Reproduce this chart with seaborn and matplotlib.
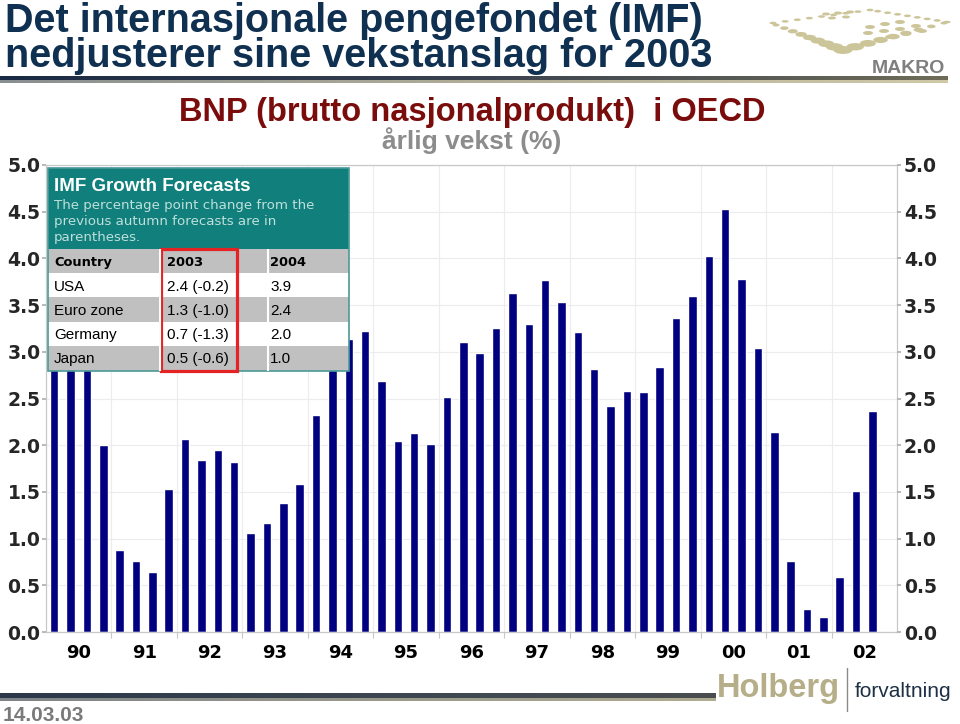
import numpy as np
import pandas as pd
import matplotlib
matplotlib.use("Agg")
import matplotlib.pyplot as plt
from matplotlib.patches import Rectangle, Ellipse
from matplotlib.colors import LinearSegmentedColormap
import seaborn as sns

# ---------------- data ----------------
year_labels = ["90", "91", "92", "93", "94", "95", "96", "97", "98", "99", "00", "01", "02"]
quarter_names = ["Q1", "Q2", "Q3", "Q4"]
growth = [
    3.30, 3.10, 3.00, 2.00,   # 1990
    0.88, 0.76, 0.64, 1.53,   # 1991
    2.07, 1.84, 1.95, 1.82,   # 1992
    1.06, 1.17, 1.38, 1.58,   # 1993
    2.32, 2.90, 3.14, 3.22,   # 1994
    2.69, 2.05, 2.13, 2.01,   # 1995
    2.52, 3.10, 2.99, 3.26,   # 1996
    3.63, 3.30, 3.77, 3.53,   # 1997
    3.21, 2.82, 2.42, 2.58,   # 1998
    2.57, 2.84, 3.36, 3.60,   # 1999
    4.03, 4.53, 3.78, 3.04,   # 2000
    2.14, 0.76, 0.25, 0.16,   # 2001
    0.59, 1.51, 2.37,         # 2002
]
y_ticks = [0.0, 0.5, 1.0, 1.5, 2.0, 2.5, 3.0, 3.5, 4.0, 4.5, 5.0]

title_lines = ["Det internasjonale pengefondet (IMF)", "nedjusterer sine vekstanslag for 2003"]
chart_title = "BNP (brutto nasjonalprodukt)  i OECD"
chart_subtitle = "årlig vekst (%)"
date_text = "14.03.03"

table_title = "IMF Growth Forecasts"
table_note = ["The percentage point change from the",
              "previous autumn forecasts are in",
              "parentheses."]
table_header = ["Country", "2003", "2004"]
table_countries = ["USA", "Euro zone", "Germany", "Japan"]
table_2003 = ["2.4 (-0.2)", "1.3 (-1.0)", "0.7 (-1.3)", "0.5 (-0.6)"]
table_2004 = ["3.9", "2.4", "2.0", "1.0"]

# ---------------- setup ----------------
sns.set_theme(style="white")
plt.rcParams["font.family"] = ["DejaVu Sans"]
SANS = ["Liberation Sans", "DejaVu Sans"]

slots = [f"{y}{q}" for y in year_labels for q in quarter_names]
df = pd.DataFrame({"quarter": slots[:len(growth)], "growth": growth})

fig = plt.figure(figsize=(9.6, 7.24), dpi=100)
W, H = 960, 724
ax = fig.add_axes([46 / W, 1 - 632 / H, 851 / W, 467 / H])

sns.barplot(data=df, x="quarter", y="growth", order=slots, color="#000080",
            saturation=1, width=0.52, ax=ax)
ax.set_xlabel("")
ax.set_ylabel("")
ax.set_ylim(0, 5)
ax.set_xlim(-0.5, len(slots) - 0.5)
ax.set_axisbelow(True)

n_years = len(year_labels)
centers = [4 * i + 1.5 for i in range(n_years)]
bounds = [4 * i + 3.5 for i in range(n_years - 1)]
ax.set_xticks(centers)
ax.set_xticklabels(year_labels, fontsize=13, fontweight="bold", color="black")
ax.set_xticks(bounds, minor=True)
ax.tick_params(axis="x", which="major", length=0, pad=9)
ax.tick_params(axis="x", which="minor", length=4, color="#c8c8c8", width=0.8, bottom=True)
ax.grid(axis="x", which="minor", color="#ececf0", lw=0.8)
ax.set_yticks(y_ticks)
ax.set_yticklabels([f"{v:.1f}" for v in y_ticks], fontsize=13.5, fontweight="bold")
ax.tick_params(axis="y", length=3, pad=1, color="#b0b0b0", left=True)
ax.grid(axis="y", color="#ececf0", lw=0.8)
for s in ax.spines.values():
    s.set_color("#c8c8c8")
    s.set_linewidth(0.9)

ax2 = ax.twinx()
ax2.set_ylim(0, 5)
ax2.set_yticks(y_ticks)
ax2.set_yticklabels([f"{v:.1f}" for v in y_ticks], fontsize=13.5, fontweight="bold")
ax2.tick_params(axis="y", length=3, pad=2, color="#b0b0b0", right=True)
for s in ax2.spines.values():
    s.set_visible(False)
ax2.grid(False)

# ---------------- overlay (pixel coordinates) ----------------
ov = fig.add_axes([0, 0, 1, 1], zorder=10)
ov.patch.set_visible(False)
ov.axis("off")


def hgrad(x0, x1, y0, y1, colors):
    cmap = LinearSegmentedColormap.from_list("g", colors)
    ov.imshow(np.linspace(0, 1, 256)[None, :], cmap=cmap, extent=(x0, x1, y1, y0),
              aspect="auto", interpolation="bilinear")


# title
ov.text(5, 32, title_lines[0], fontsize=28.5, fontweight="bold", color="#0f3050",
        family=SANS, va="baseline", ha="left")
ov.text(5, 67, title_lines[1], fontsize=28.5, fontweight="bold", color="#0f3050",
        family=SANS, va="baseline", ha="left")

# top rule
hgrad(0, 948, 76, 80, ["#1a2a44", "#3a4250", "#6e6c58"])
hgrad(0, 948, 80, 83, ["#8a8f90", "#b0ad98", "#cfc9a8"])

# MAKRO logo
dot_c = "#cdc59a"
pts = []
for t in np.linspace(0, 1, 9):
    pts.append((773 + t * (870 - 773), 23 - t * (23 - 10), 7, 2.6))
for t in np.linspace(0.1, 1, 8):
    pts.append((870 + t * (947 - 870), 10 + t * (22 - 10), 7, 2.6))
for t in np.linspace(0, 1, 9):
    pts.append((776 + t * (843 - 776), 25 + t * (50 - 25), 7 + 12 * t, 3 + 5 * t))
for t in np.linspace(0.12, 1, 8):
    pts.append((843 + t * (944 - 843), 50 - t * (50 - 23), 19 - 12 * t, 8 - 5 * t))
for (x, y) in [(870, 27), (885, 24), (900, 22), (868, 33), (884, 31), (900, 29), (916, 26),
               (890, 37), (906, 34), (922, 31)]:
    pts.append((x, y, 10, 4))
for (x, y) in [(826, 14), (838, 13), (832, 18), (846, 17), (850, 12)]:
    pts.append((x, y, 8, 3))
for (x, y, w, h) in pts:
    ov.add_patch(Ellipse((x, y), w, h, color=dot_c, lw=0))
ov.text(945, 73, "MAKRO", fontsize=14, fontweight="bold", color="#7f7f7f",
        family=SANS, ha="right", va="baseline")

# chart titles
ov.text(472, 121, chart_title, fontsize=23.5, fontweight="bold", color="#7a0c0c",
        family=SANS, ha="center", va="baseline")
ov.text(472, 149, chart_subtitle, fontsize=19, fontweight="bold", color="#8c8c8c",
        family=SANS, ha="center", va="baseline")

# ---- inset table ----
tx0, tx1, ty0, ty1 = 48, 349, 168, 371
ov.add_patch(Rectangle((tx0, ty0), tx1 - tx0, ty1 - ty0, facecolor="white", lw=0))
ov.add_patch(Rectangle((tx0, ty0), tx1 - tx0, 249 - ty0, facecolor="#117f7b", lw=0))
row_edges = [249, 273, 297, 322, 346, 371]
row_cols = ["#c0c0c0", "#ffffff", "#c0c0c0", "#ffffff", "#c0c0c0"]
for i in range(5):
    ov.add_patch(Rectangle((tx0, row_edges[i]), tx1 - tx0, row_edges[i + 1] - row_edges[i],
                           facecolor=row_cols[i], lw=0))
for xs in (160, 268):
    ov.plot([xs, xs], [249, 371], color="white", lw=1.5, solid_capstyle="butt")
ov.add_patch(Rectangle((tx0, ty0), tx1 - tx0, ty1 - ty0, facecolor="none",
                       edgecolor="#4a9a98", lw=1.2))
ov.text(54, 191, table_title, fontsize=13.5, fontweight="bold", color="white",
        family=SANS, ha="left", va="baseline")
for i, line in enumerate(table_note):
    ov.text(54, 209 + 16 * i, line, fontsize=9.6, color="#bfe0dc",
            family=["DejaVu Sans"], ha="left", va="baseline")
col_x = [54, 167, 270]
for cx, h in zip(col_x, table_header):
    ov.text(cx, 266, h, fontsize=9.4, fontweight="bold", color="black",
            family=["DejaVu Sans"], ha="left", va="baseline")
row_base = [291, 315, 339, 363]
for rb, c, a, b in zip(row_base, table_countries, table_2003, table_2004):
    ov.text(col_x[0], rb, c, fontsize=11, color="black", family=SANS, ha="left", va="baseline")
    ov.text(col_x[1], rb, a, fontsize=11, color="black", family=SANS, ha="left", va="baseline")
    ov.text(col_x[2], rb, b, fontsize=11, color="black", family=SANS, ha="left", va="baseline")
ov.add_patch(Rectangle((161, 249), 237 - 161, 371 - 249, facecolor="none",
                       edgecolor="#e42424", lw=2.3))

# bottom rule and logo
hgrad(0, 716, 693, 698, ["#2a3848", "#3c4652", "#4a4e50"])
hgrad(0, 716, 698, 701, ["#7e8488", "#98988a", "#b0ac92"])
ov.text(717, 697, "Holberg", fontsize=23.5, fontweight="bold", color="#b6ae88",
        family=SANS, ha="left", va="baseline")
ov.plot([847, 847], [668, 711], color="#8a8a8a", lw=1)
ov.text(855, 697, "forvaltning", fontsize=15, color="#1e3046",
        family=SANS, ha="left", va="baseline")
ov.text(3, 721, date_text, fontsize=15, fontweight="bold", color="#7a7a7a",
        family=SANS, ha="left", va="baseline")

ov.set_xlim(0, W)
ov.set_ylim(H, 0)

fig.savefig("out.png", dpi=100)
